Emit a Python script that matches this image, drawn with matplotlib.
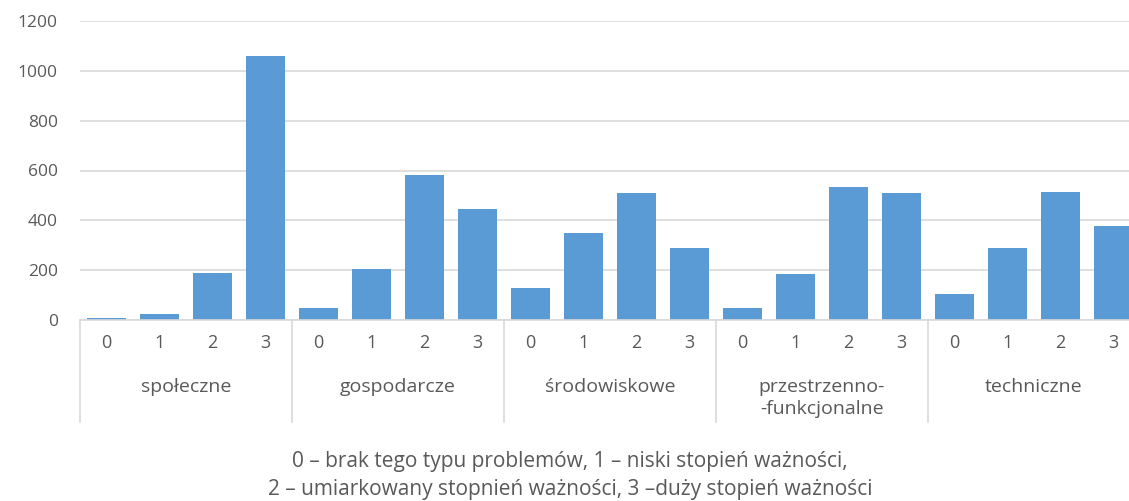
import matplotlib.pyplot as plt
from matplotlib import transforms

# dane
groups = ['społeczne', 'gospodarcze', 'środowiskowe', 'przestrzenno-\n-funkcjonalne', 'techniczne']
levels = ['0', '1', '2', '3']
spoleczne = [8, 25, 188, 1058]
gospodarcze = [50, 205, 580, 445]
srodowiskowe = [130, 350, 510, 287]
przestrzenne = [50, 185, 533, 510]
techniczne = [105, 287, 512, 378]
footnote = ['0 – brak tego typu problemów, 1 – niski stopień ważności,',
            '2 – umiarkowany stopnień ważności, 3 –duży stopień ważności']

values = spoleczne + gospodarcze + srodowiskowe + przestrzenne + techniczne
n = len(levels)

plt.rcParams['font.family'] = ['Open Sans', 'DejaVu Sans']
text_color = '#595959'
grid_color = '#D9D9D9'

fig = plt.figure(figsize=(11.29, 5.01), dpi=100)
W, H = 1129, 501
ax = fig.add_axes([80 / W, 1 - 320 / H, (1140 - 80) / W, (320 - 21) / H])

x = list(range(len(values)))
ax.bar(x, values, width=0.75, color='#5B9BD5', zorder=2)

ax.set_xlim(-0.5, len(values) - 0.5)
ax.set_ylim(0, 1200)
ax.set_yticks(range(0, 1201, 200))
ax.yaxis.grid(True, color=grid_color, linewidth=1.2, zorder=0)
ax.tick_params(axis='y', length=0, pad=16, labelsize=12.5, labelcolor=text_color)

ax.set_xticks(x)
ax.set_xticklabels(levels * len(groups))
ax.tick_params(axis='x', length=0, pad=10, labelsize=13, labelcolor=text_color)

for s in ['top', 'right', 'left']:
    ax.spines[s].set_visible(False)
ax.spines['bottom'].set_color(grid_color)
ax.spines['bottom'].set_linewidth(1.2)

# etykiety grup i separatory
trans = transforms.blended_transform_factory(ax.transData, ax.transAxes)
sep_bottom = -(422 - 320) / (320 - 21)
for i, g in enumerate(groups):
    left = i * n - 0.5
    ax.plot([left, left], [0, sep_bottom], transform=trans, color=grid_color,
            linewidth=1.2, clip_on=False)
    ax.text(left + n / 2, -(378 - 320) / (320 - 21), g, transform=trans,
            ha='center', va='top', fontsize=14, color=text_color, linespacing=1.3)
right = len(groups) * n - 0.5
ax.plot([right, right], [0, sep_bottom], transform=trans, color=grid_color,
        linewidth=1.2, clip_on=False)

for line, ypix in zip(footnote, [461, 489]):
    fig.text(570 / W, 1 - ypix / H, line, ha='center', va='center',
             fontsize=15, color=text_color)

fig.savefig('out.png', dpi=100)
